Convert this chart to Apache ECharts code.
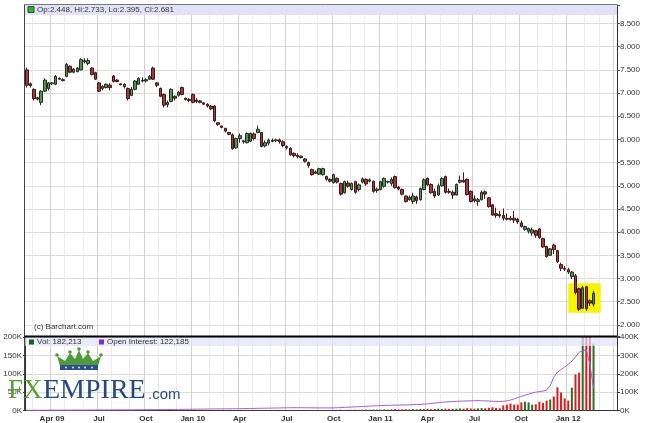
<!DOCTYPE html>
<html><head><meta charset="utf-8">
<script src="https://cdn.jsdelivr.net/npm/echarts@6/dist/echarts.min.js"></script>
<style>html,body{margin:0;padding:0;background:#fff}#c{width:645px;height:423px}</style>
</head><body><div id="c"></div>
<script>
const weeks = [
'2009-02-09','2009-02-16','2009-02-23','2009-03-02','2009-03-09','2009-03-16','2009-03-23','2009-03-30','2009-04-06','2009-04-13','2009-04-20','2009-04-27','2009-05-04','2009-05-11','2009-05-18','2009-05-25','2009-06-01','2009-06-08','2009-06-15','2009-06-22','2009-06-29','2009-07-06','2009-07-13','2009-07-20','2009-07-27','2009-08-03','2009-08-10','2009-08-17','2009-08-24','2009-08-31','2009-09-07','2009-09-14','2009-09-21','2009-09-28','2009-10-05','2009-10-12','2009-10-19','2009-10-26','2009-11-02','2009-11-09','2009-11-16','2009-11-23','2009-11-30','2009-12-07','2009-12-14','2009-12-21','2009-12-28',
'2010-01-04','2010-01-11','2010-01-18','2010-01-25','2010-02-01','2010-02-08','2010-02-15','2010-02-22','2010-03-01','2010-03-08','2010-03-15','2010-03-22','2010-03-29','2010-04-05','2010-04-12','2010-04-19','2010-04-26','2010-05-03','2010-05-10','2010-05-17','2010-05-24','2010-05-31','2010-06-07','2010-06-14','2010-06-21','2010-06-28','2010-07-05','2010-07-12','2010-07-19','2010-07-26','2010-08-02','2010-08-09','2010-08-16','2010-08-23','2010-08-30','2010-09-06','2010-09-13','2010-09-20','2010-09-27','2010-10-04','2010-10-11','2010-10-18','2010-10-25','2010-11-01','2010-11-08','2010-11-15','2010-11-22','2010-11-29','2010-12-06','2010-12-13','2010-12-20','2010-12-27',
'2011-01-03','2011-01-10','2011-01-17','2011-01-24','2011-01-31','2011-02-07','2011-02-14','2011-02-21','2011-02-28','2011-03-07','2011-03-14','2011-03-21','2011-03-28','2011-04-04','2011-04-11','2011-04-18','2011-04-25','2011-05-02','2011-05-09','2011-05-16','2011-05-23','2011-05-30','2011-06-06','2011-06-13','2011-06-20','2011-06-27','2011-07-04','2011-07-11','2011-07-18','2011-07-25','2011-08-01','2011-08-08','2011-08-15','2011-08-22','2011-08-29','2011-09-05','2011-09-12','2011-09-19','2011-09-26','2011-10-03','2011-10-10','2011-10-17','2011-10-24','2011-10-31','2011-11-07','2011-11-14','2011-11-21','2011-11-28','2011-12-05','2011-12-12','2011-12-19','2011-12-26',
'2012-01-02','2012-01-09','2012-01-16','2012-01-23','2012-01-30','2012-02-06','2012-02-13','2012-02-20','2012-02-27','2012-03-05','2012-03-12','2012-03-19','2012-03-26'];

const tickLabels = ['Apr 09','Jul','Oct','Jan 10','Apr','Jul','Oct','Jan 11','Apr','Jul','Oct','Jan 12'];

const opens = [7.50,7.20,7.08,6.90,6.80,7.04,7.10,7.20,7.19,7.32,7.29,7.36,7.58,7.45,7.46,7.50,7.70,7.64,7.54,7.44,
7.22,7.10,7.12,7.17,7.37,7.28,7.20,7.19,7.10,6.95,7.08,7.19,7.28,7.26,7.30,7.54,7.22,7.10,6.97,6.75,
6.82,6.93,6.95,7.12,6.89,6.86,6.97,6.85,6.83,6.79,6.76,6.72,6.72,6.36,6.29,6.24,6.15,6.10,5.82,6.02,
5.97,5.93,5.96,6.12,6.15,6.15,5.86,5.92,5.98,5.97,5.99,5.95,5.85,5.81,5.70,5.66,5.64,5.58,5.50,5.35,
5.30,5.25,5.24,5.20,5.14,5.07,5.16,5.05,4.85,5.06,4.92,5.09,4.92,5.08,5.14,5.10,5.10,4.90,4.92,4.99,
5.09,5.05,5.20,4.97,4.92,4.78,4.70,4.66,4.76,4.70,4.92,5.16,5.03,4.88,4.80,5.00,5.20,4.88,4.86,4.80,
5.08,5.12,5.14,4.88,4.72,4.66,4.70,4.87,4.74,4.59,4.40,4.38,4.36,4.30,4.30,4.30,4.28,4.20,4.06,4.02,
3.98,4.03,4.07,3.86,3.69,3.50,3.72,3.60,3.30,3.22,3.19,3.04,3.06,2.78,2.36,2.82,2.52,2.448];
const closes = [7.17,7.16,6.88,6.87,7.04,7.28,7.22,7.22,7.36,7.30,7.27,7.62,7.45,7.52,7.54,7.72,7.68,7.70,7.40,7.30,
7.04,7.14,7.19,7.12,7.25,7.25,7.18,7.14,6.88,7.08,7.26,7.32,7.26,7.29,7.36,7.30,7.17,6.93,6.74,6.80,
7.08,6.89,7.02,6.97,6.86,6.84,6.80,6.82,6.80,6.76,6.72,6.66,6.40,6.32,6.26,6.18,6.11,5.80,6.02,6.08,
5.95,6.13,6.13,6.02,6.22,5.85,5.93,5.98,5.96,5.99,5.95,5.87,5.82,5.67,5.65,5.63,5.61,5.53,5.44,5.24,
5.27,5.37,5.37,5.14,5.10,5.24,5.08,4.82,5.09,4.99,5.05,4.86,5.02,5.15,5.04,5.13,4.88,4.93,5.09,5.16,
5.08,5.14,4.96,4.93,4.82,4.66,4.75,4.78,4.68,4.94,5.13,5.02,4.85,4.78,5.00,5.16,4.86,4.86,4.80,5.03,
5.12,5.08,4.81,4.66,4.68,4.70,4.86,4.82,4.55,4.37,4.36,4.35,4.30,4.28,4.27,4.26,4.22,4.12,4.12,4.08,
4.05,3.93,3.88,3.68,3.47,3.64,3.62,3.36,3.22,3.20,3.14,3.14,2.70,2.34,2.80,2.35,2.47,2.681];
const lows = [7.12,7.12,6.84,6.84,6.74,7.02,7.06,7.17,7.17,7.28,7.25,7.34,7.43,7.43,7.45,7.49,7.64,7.60,7.38,7.28,
7.02,7.06,7.10,7.06,7.23,7.23,7.17,7.10,6.84,6.95,7.06,7.17,7.23,7.23,7.28,7.28,7.13,6.91,6.69,6.69,
6.80,6.84,6.92,6.95,6.84,6.80,6.78,6.78,6.78,6.74,6.69,6.63,6.37,6.30,6.24,6.15,6.09,5.78,5.80,5.93,
5.91,5.91,5.94,5.98,6.13,5.83,5.83,5.87,5.94,5.94,5.91,5.83,5.78,5.65,5.61,5.59,5.59,5.50,5.39,5.22,
5.26,5.24,5.22,5.11,5.07,5.05,5.05,4.79,4.83,4.96,4.90,4.83,4.88,5.05,5.00,5.07,4.85,4.85,4.90,4.96,
5.05,5.00,4.94,4.90,4.79,4.64,4.68,4.61,4.61,4.68,4.90,5.00,4.83,4.74,4.78,4.98,4.83,4.83,4.72,4.79,
5.05,5.07,4.79,4.64,4.64,4.57,4.68,4.72,4.53,4.35,4.31,4.31,4.25,4.25,4.25,4.20,4.18,4.10,4.03,3.97,
3.92,3.88,3.86,3.66,3.45,3.49,3.53,3.34,3.16,3.16,3.10,2.99,2.66,2.30,2.34,2.30,2.41,2.395];
const highs = [7.55,7.23,7.10,6.92,7.06,7.32,7.24,7.24,7.39,7.34,7.32,7.65,7.60,7.54,7.56,7.75,7.75,7.75,7.56,7.46,
7.24,7.17,7.21,7.21,7.39,7.30,7.21,7.21,7.12,7.13,7.28,7.34,7.34,7.32,7.39,7.57,7.23,7.12,6.99,6.84,
7.10,6.95,7.05,7.14,6.90,6.89,6.99,6.89,6.85,6.80,6.78,6.74,6.74,6.37,6.30,6.25,6.16,6.13,6.04,6.13,
5.98,6.15,6.15,6.15,6.30,6.16,5.98,6.02,6.02,6.02,6.02,5.98,5.87,5.83,5.72,5.70,5.65,5.60,5.52,5.37,
5.33,5.39,5.39,5.22,5.16,5.26,5.18,5.07,5.11,5.11,5.07,5.11,5.05,5.18,5.16,5.16,5.11,4.96,5.11,5.18,
5.11,5.18,5.22,5.00,4.94,4.79,4.79,4.85,4.79,4.96,5.16,5.18,5.05,4.94,5.05,5.18,5.22,4.94,4.90,5.05,
5.22,5.29,5.16,4.90,4.79,4.74,4.90,4.90,4.76,4.61,4.53,4.46,4.51,4.40,4.35,4.46,4.31,4.25,4.14,4.10,
4.10,4.05,4.09,3.88,3.71,3.66,3.75,3.62,3.34,3.27,3.23,3.16,3.10,2.80,2.84,2.84,2.55,2.733];

const volume = [300,200,400,300,200,500,300,200,400,300,200,300,500,300,200,400,300,300,500,400,
300,400,300,200,500,300,400,300,600,400,300,500,400,300,400,600,400,500,700,500,
600,400,500,600,400,300,500,400,600,500,400,700,900,600,500,700,600,800,900,700,
800,600,700,900,800,1100,900,800,700,900,800,1000,900,1200,1000,900,1100,1000,1300,1500,
1200,1400,1300,1100,1500,1400,1800,2000,1600,1900,1700,2200,1800,2100,2400,2000,2600,2300,2100,2800,
2500,3000,3400,2800,3200,3600,3000,3500,3300,4000,3800,4500,3500,4200,4800,4000,5200,4600,4300,5000,
5600,4800,6200,5400,5000,5800,6500,6000,7500,8800,7000,
6000,14000,16000,19000,16000,16000,22000,24000,22000,16000,17000,24000,21000,27000,30000,38000,63000,49000,33000,27000,62000,98000,103000,230000,230000,230000,182213];

const openInterest = [1000,1000,1200,1200,1300,1300,1500,1500,1600,1700,
1800,1900,2000,2000,2100,2200,2300,2400,2500,2600,
2700,2800,2900,3000,3200,3300,3400,3500,3700,3800,
3900,4000,4200,4300,4500,4600,4800,4900,5100,5300,
5500,5700,5900,6100,6400,6600,6900,7200,7500,7800,
8100,8300,8600,8800,9000,9100,9200,9400,9700,10000,
10400,10800,11100,11400,11800,12100,12500,12800,13100,13500,
13900,14300,14700,15000,15200,15300,15200,15000,14800,14600,
14400,14200,14100,14000,14100,14300,15000,15900,16900,17900,
18900,19900,20800,21800,22800,23800,24800,25700,26600,27400,
28000,28500,29000,29400,29900,30400,31000,31600,32200,32800,
34500,36500,38500,40500,42500,44500,46500,47800,48800,49800,
50800,51600,52200,52800,53300,53800,53200,52300,51200,50200,
49400,49000,50000,52500,57000,63000,70000,77000,83000,89000,
95000,100000,103000,106000,110000,136000,181000,209000,222000,236000,
252000,268000,292000,317000,326000,330000,250000,122185];

// --- helpers
function monthStartIn(ds){
  const d = new Date(ds + 'T00:00:00Z');
  for (let k = 0; k < 7; k++) {
    const t = new Date(d.getTime() + k * 86400000);
    if (t.getUTCDate() === 1) return t.getUTCMonth();
  }
  return -1;
}
const monthIdx = weeks.map(monthStartIn);
const isMonth = i => monthIdx[i] >= 0;
const isQuarter = i => monthIdx[i] >= 0 && monthIdx[i] % 3 === 0;
const qLabel = {};
let qn = 0;
weeks.forEach((w, i) => { if (isQuarter(i) && qn < tickLabels.length) qLabel[i] = tickLabels[qn++]; });

const last = closes.length - 1;
const candleData = opens.map((o, i) => [o, closes[i], lows[i], highs[i]]);
const UP = '#4a9a46', DOWN = '#a63838';
const volData = volume.map((v, i) => ({
  value: v,
  itemStyle: { color: closes[i] >= opens[i] ? '#2a6e2a' : '#d42020' }
}));
const fmtK = v => (v / 1000) + 'K';
const fmtNum = n => n.toLocaleString('en-US');
const FONT = '"Liberation Sans", Arial, sans-serif';

const chart = echarts.init(document.getElementById('c'), null, { renderer: 'canvas' });
const monthSplit = { show: true, interval: (i) => isMonth(i), lineStyle: { color: '#ebebeb', width: 1 } };
const quarterSplit = { show: true, interval: (i) => isQuarter(i), lineStyle: { color: '#d0d0d0', width: 1 } };

chart.setOption({
  animation: false,
  backgroundColor: '#ffffff',
  textStyle: { fontFamily: FONT },
  grid: [
    { left: 25, right: 28, top: 5, height: 331 },
    { left: 25, right: 28, top: 337, height: 73.5 }
  ],
  xAxis: [
    { gridIndex: 0, type: 'category', data: weeks, boundaryGap: true,
      axisLine: { show: false }, axisTick: { show: false }, axisLabel: { show: false }, splitLine: monthSplit },
    { gridIndex: 0, type: 'category', data: weeks, boundaryGap: true, position: 'top',
      axisLine: { show: false }, axisTick: { show: false }, axisLabel: { show: false }, splitLine: quarterSplit },
    { gridIndex: 1, type: 'category', data: weeks, boundaryGap: true,
      axisLine: { show: true, lineStyle: { color: '#333', width: 1 } }, axisTick: { show: false },
      axisLabel: { show: true, interval: (i) => qLabel[i] !== undefined, formatter: (v, i) => qLabel[i] || '',
        fontSize: 8, fontWeight: 'bold', color: '#333', margin: 4, fontFamily: FONT },
      splitLine: monthSplit },
    { gridIndex: 1, type: 'category', data: weeks, boundaryGap: true, position: 'top',
      axisLine: { show: false }, axisTick: { show: false }, axisLabel: { show: false }, splitLine: quarterSplit }
  ],
  yAxis: [
    { gridIndex: 0, type: 'value', position: 'right', min: 1.76, max: 8.9, minInterval: 0.5, maxInterval: 0.5, splitNumber: 14,
      axisLine: { show: true, lineStyle: { color: '#333' } },
      axisTick: { show: true, length: 3, lineStyle: { color: '#555' } },
      axisLabel: { fontSize: 8, color: '#333', margin: 3, fontFamily: FONT,
        formatter: v => (Math.abs(v * 2 - Math.round(v * 2)) < 1e-6 ? v.toFixed(3) : '') },
      splitLine: { show: true, lineStyle: { color: '#dadada' } } },
    { gridIndex: 1, type: 'value', position: 'left', min: 0, max: 200000, interval: 50000,
      axisLine: { show: true, lineStyle: { color: '#333' } },
      axisTick: { show: true, length: 2 },
      axisLabel: { fontSize: 8, color: '#333', margin: 3, formatter: fmtK, fontFamily: FONT },
      splitLine: { show: true, lineStyle: { color: '#dadada' } } },
    { gridIndex: 1, type: 'value', position: 'right', min: 0, max: 400000, interval: 100000,
      axisLine: { show: true, lineStyle: { color: '#333' } },
      axisTick: { show: true, length: 3 },
      axisLabel: { fontSize: 8, color: '#333', margin: 3, formatter: fmtK, fontFamily: FONT },
      splitLine: { show: false } }
  ],
  series: [
    { type: 'candlestick', xAxisIndex: 0, yAxisIndex: 0, data: candleData, barWidth: 3,
      itemStyle: { color: UP, color0: DOWN, borderColor: '#2a2a2a', borderColor0: '#3a1a1a', borderWidth: 1 },
      markArea: { silent: true, itemStyle: { color: '#f6f500' },
        data: [[{ xAxis: weeks[150], yAxis: 2.90 }, { xAxis: weeks[159], yAxis: 2.26 }]] },
      markLine: { silent: true, symbol: 'none', lineStyle: { opacity: 0 },
        label: { show: true, position: 'end', distance: 2, formatter: closes[last].toFixed(3),
          backgroundColor: '#111', color: '#fff', fontSize: 8, padding: [1, 2, 0, 2], fontFamily: FONT },
        data: [{ yAxis: closes[last] }] } },
    { type: 'bar', xAxisIndex: 2, yAxisIndex: 1, data: volData, barWidth: 2, clip: true },
    { type: 'line', xAxisIndex: 2, yAxisIndex: 2, data: openInterest, symbol: 'none',
      lineStyle: { color: '#a45fd6', width: 1 }, itemStyle: { color: '#a45fd6' } }
  ],
  graphic: [
    { type: 'line', shape: { x1: 24.5, y1: 4.5, x2: 617, y2: 4.5 }, style: { stroke: '#777', lineWidth: 1 }, z: 100 },
    { type: 'line', shape: { x1: 24.5, y1: 4.5, x2: 24.5, y2: 410.5 }, style: { stroke: '#444', lineWidth: 1 }, z: 100 },
    { type: 'rect', shape: { x: 25, y: 5, width: 592, height: 10 }, style: { fill: '#e2e2f6' }, z: 90 },
    { type: 'rect', shape: { x: 28, y: 6.5, width: 6, height: 6 }, style: { fill: '#3caa3c', stroke: '#1d5a1d', lineWidth: 1 }, z: 100 },
    { type: 'text', x: 37, y: 10, style: { text: 'Op:' + opens[last] + ', Hi:' + highs[last] + ', Lo:' + lows[last] + ', Cl:' + closes[last],
      font: '8px ' + FONT, fill: '#333', verticalAlign: 'middle' }, z: 100 },
    { type: 'text', x: 34, y: 327, style: { text: '(c) Barchart.com', font: '8px ' + FONT, fill: '#333', verticalAlign: 'middle' }, z: 100 },
    { type: 'line', shape: { x1: 24.5, y1: 336.5, x2: 617, y2: 336.5 }, style: { stroke: '#000', lineWidth: 2 }, z: 100 },
    { type: 'rect', shape: { x: 25, y: 337.5, width: 592, height: 8.5 }, style: { fill: 'rgba(226,226,250,0.72)' }, z: 90 },
    { type: 'rect', shape: { x: 29, y: 339.5, width: 5, height: 5 }, style: { fill: '#1f5f1f' }, z: 100 },
    { type: 'text', x: 37, y: 342, style: { text: 'Vol: ' + fmtNum(volume[last]), font: '8px ' + FONT, fill: '#333', verticalAlign: 'middle' }, z: 100 },
    { type: 'rect', shape: { x: 99, y: 339.5, width: 5, height: 5 }, style: { fill: '#7b2fd0' }, z: 100 },
    { type: 'text', x: 107, y: 342, style: { text: 'Open Interest: ' + fmtNum(openInterest[last]), font: '8px ' + FONT, fill: '#333', verticalAlign: 'middle' }, z: 100 },
    // logo crown
    { type: 'polygon', shape: { points: [[60,366],[57,356],[65,361],[70,353],[75,359],[79,350],[83,359],[88,353],[93,361],[101,356],[98,366]] },
      style: { fill: '#4f9a3c' }, z: 110 },
    { type: 'circle', shape: { cx: 57, cy: 355, r: 1.8 }, style: { fill: '#4f9a3c' }, z: 110 },
    { type: 'circle', shape: { cx: 70, cy: 352, r: 1.8 }, style: { fill: '#4f9a3c' }, z: 110 },
    { type: 'circle', shape: { cx: 79, cy: 349, r: 1.8 }, style: { fill: '#4f9a3c' }, z: 110 },
    { type: 'circle', shape: { cx: 88, cy: 352, r: 1.8 }, style: { fill: '#4f9a3c' }, z: 110 },
    { type: 'circle', shape: { cx: 101, cy: 355, r: 1.8 }, style: { fill: '#4f9a3c' }, z: 110 },
    { type: 'rect', shape: { x: 60, y: 365, width: 38, height: 5 }, style: { fill: '#2d4f8c' }, z: 110 },
    { type: 'circle', shape: { cx: 66, cy: 367.5, r: 1 }, style: { fill: '#dfe6f5' }, z: 111 },
    { type: 'circle', shape: { cx: 73, cy: 367.5, r: 1 }, style: { fill: '#dfe6f5' }, z: 111 },
    { type: 'circle', shape: { cx: 79, cy: 367.5, r: 1 }, style: { fill: '#dfe6f5' }, z: 111 },
    { type: 'circle', shape: { cx: 85, cy: 367.5, r: 1 }, style: { fill: '#dfe6f5' }, z: 111 },
    { type: 'circle', shape: { cx: 92, cy: 367.5, r: 1 }, style: { fill: '#dfe6f5' }, z: 111 },
    { type: 'text', x: 8, y: 391, style: { text: 'FX', font: '27px "Liberation Serif", serif', fill: '#5a9e3a', verticalAlign: 'middle' }, z: 110 },
    { type: 'text', x: 43, y: 391, style: { text: 'EMPIRE', font: '28px "Liberation Serif", serif', fill: '#274a7e', verticalAlign: 'middle' }, z: 110 },
    { type: 'text', x: 148, y: 395, style: { text: '.com', font: '15px ' + FONT, fill: '#274a7e', verticalAlign: 'middle' }, z: 110 }
  ]
});
</script>
</body></html>
